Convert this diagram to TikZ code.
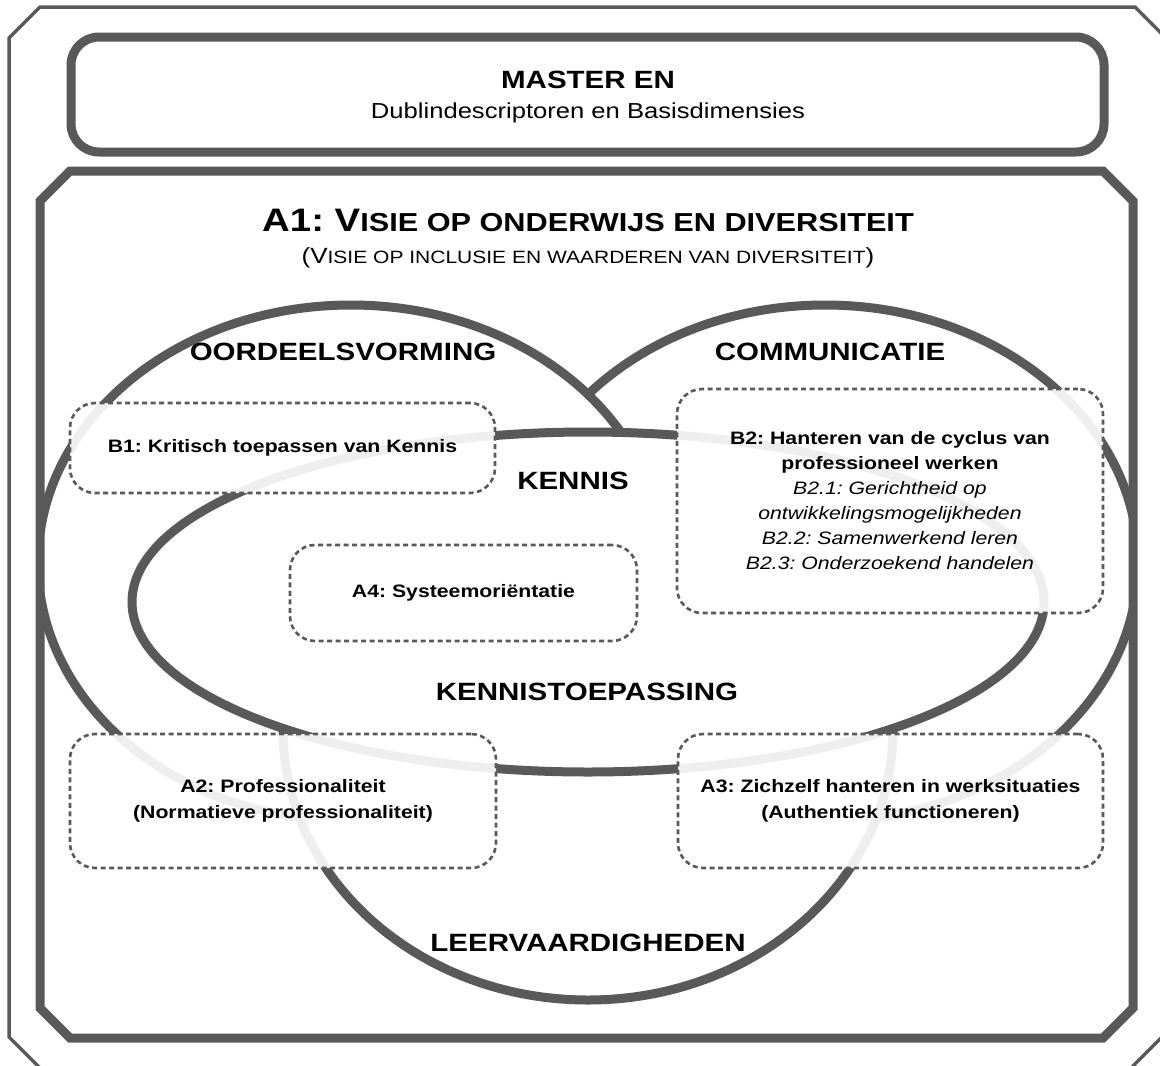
\documentclass[tikz,border=0pt]{standalone}
\usepackage{fontspec}
\setmainfont{Liberation Sans}[FakeStretch=1.18]
\definecolor{dk}{HTML}{595959}
\frenchspacing
\begin{document}
\begin{tikzpicture}[x=1pt,y=-1pt,
  bigshape/.style={fill=white,draw=dk,line width=9pt},
  dbox/.style={draw=dk,line width=2.6pt,dash pattern=on 5pt off 3.5pt,rounded corners=25pt,
    fill=white,fill opacity=0.9,text opacity=1,align=center,inner sep=0pt,
    font=\bfseries\fontsize{18}{25.5}\selectfont},
  head/.style={font=\bfseries\fontsize{25}{30}\selectfont,inner sep=0pt}]
\useasboundingbox (0,0) rectangle (1160,1066);
% outer thin frame
\begin{scope}
\clip (0,0) rectangle (1160,1066);
\draw[draw=dk,line width=3.5pt] (40,7) -- (1135,7) -- (1167,39) -- (1167,1032) -- (1131,1068) -- (40,1068) -- (9,1037) -- (9,38) -- cycle;
\end{scope}
% master box
\draw[draw=dk,line width=9pt,rounded corners=28pt] (71,37) rectangle (1104,152);
\node[head] (master) at (588,80) {MASTER EN};
\node[font=\fontsize{21.7}{26}\selectfont,inner sep=0pt] (dublin) at (588,113) {Dublindescriptoren en Basisdimensies};
% inner frame background
\path[fill=white] (70,171) -- (1103,171) -- (1133,201) -- (1133,1008) -- (1103,1038) -- (70,1038) -- (40,1008) -- (40,201) -- cycle;
\begin{scope}
\clip (70,171) -- (1103,171) -- (1133,201) -- (1133,1008) -- (1103,1038) -- (70,1038) -- (40,1008) -- (40,201) -- cycle;
\draw[bigshape] (825,563) ellipse [x radius=313, y radius=258];
\draw[bigshape] (351,563) ellipse [x radius=313, y radius=258];
\draw[bigshape] (588,730) ellipse [x radius=305, y radius=270];
\draw[bigshape] (588,602) ellipse [x radius=456, y radius=170];
\end{scope}
\draw[draw=dk,line width=9pt] (70,171) -- (1103,171) -- (1133,201) -- (1133,1008) -- (1103,1038) -- (70,1038) -- (40,1008) -- (40,201) -- cycle;
% titles
\node[inner sep=0pt,font=\bfseries] (title) at (588,220) {{\fontsize{32.5}{36}\selectfont A1: V}{\fontsize{26}{30}\selectfont ISIE OP ONDERWIJS EN DIVERSITEIT}};
\node[inner sep=0pt] (subtitle) at (588,258) {{\fontsize{22}{26}\selectfont (V}{\fontsize{17.8}{22}\selectfont ISIE OP INCLUSIE EN WAARDEREN VAN DIVERSITEIT}{\fontsize{22}{26}\selectfont )}};
% region labels
\node[head] (oordeel) at (343,352) {OORDEELSVORMING};
\node[head] (comm) at (830,352) {COMMUNICATIE};
\node[head] (kennis) at (573,481) {KENNIS};
\node[head] (kt) at (587,692) {KENNISTOEPASSING};
\node[head] (leer) at (588,943) {LEERVAARDIGHEDEN};
% dashed boxes
\node[dbox,minimum width=425pt,minimum height=90pt] (b1) at (282.5,448) {B1: Kritisch toepassen van Kennis};
\node[dbox,minimum width=426pt,minimum height=224pt,font=\bfseries\fontsize{18}{25}\selectfont] (b2) at (890,501)
  {B2: Hanteren van de cyclus van\\professioneel werken\\{\mdseries\itshape B2.1: Gerichtheid op}\\{\mdseries\itshape ontwikkelingsmogelijkheden}\\{\mdseries\itshape B2.2: Samenwerkend leren}\\{\mdseries\itshape B2.3: Onderzoekend handelen}};
\node[dbox,minimum width=347pt,minimum height=96pt] (a4) at (463.5,593) {A4: Systeemoriëntatie};
\node[dbox,minimum width=426pt,minimum height=134pt] (a2) at (283,801) {A2: Professionaliteit\\(Normatieve professionaliteit)};
\node[dbox,minimum width=425pt,minimum height=134pt] (a3) at (890.5,801) {A3: Zichzelf hanteren in werksituaties\\(Authentiek functioneren)};
\end{tikzpicture}
\end{document}
